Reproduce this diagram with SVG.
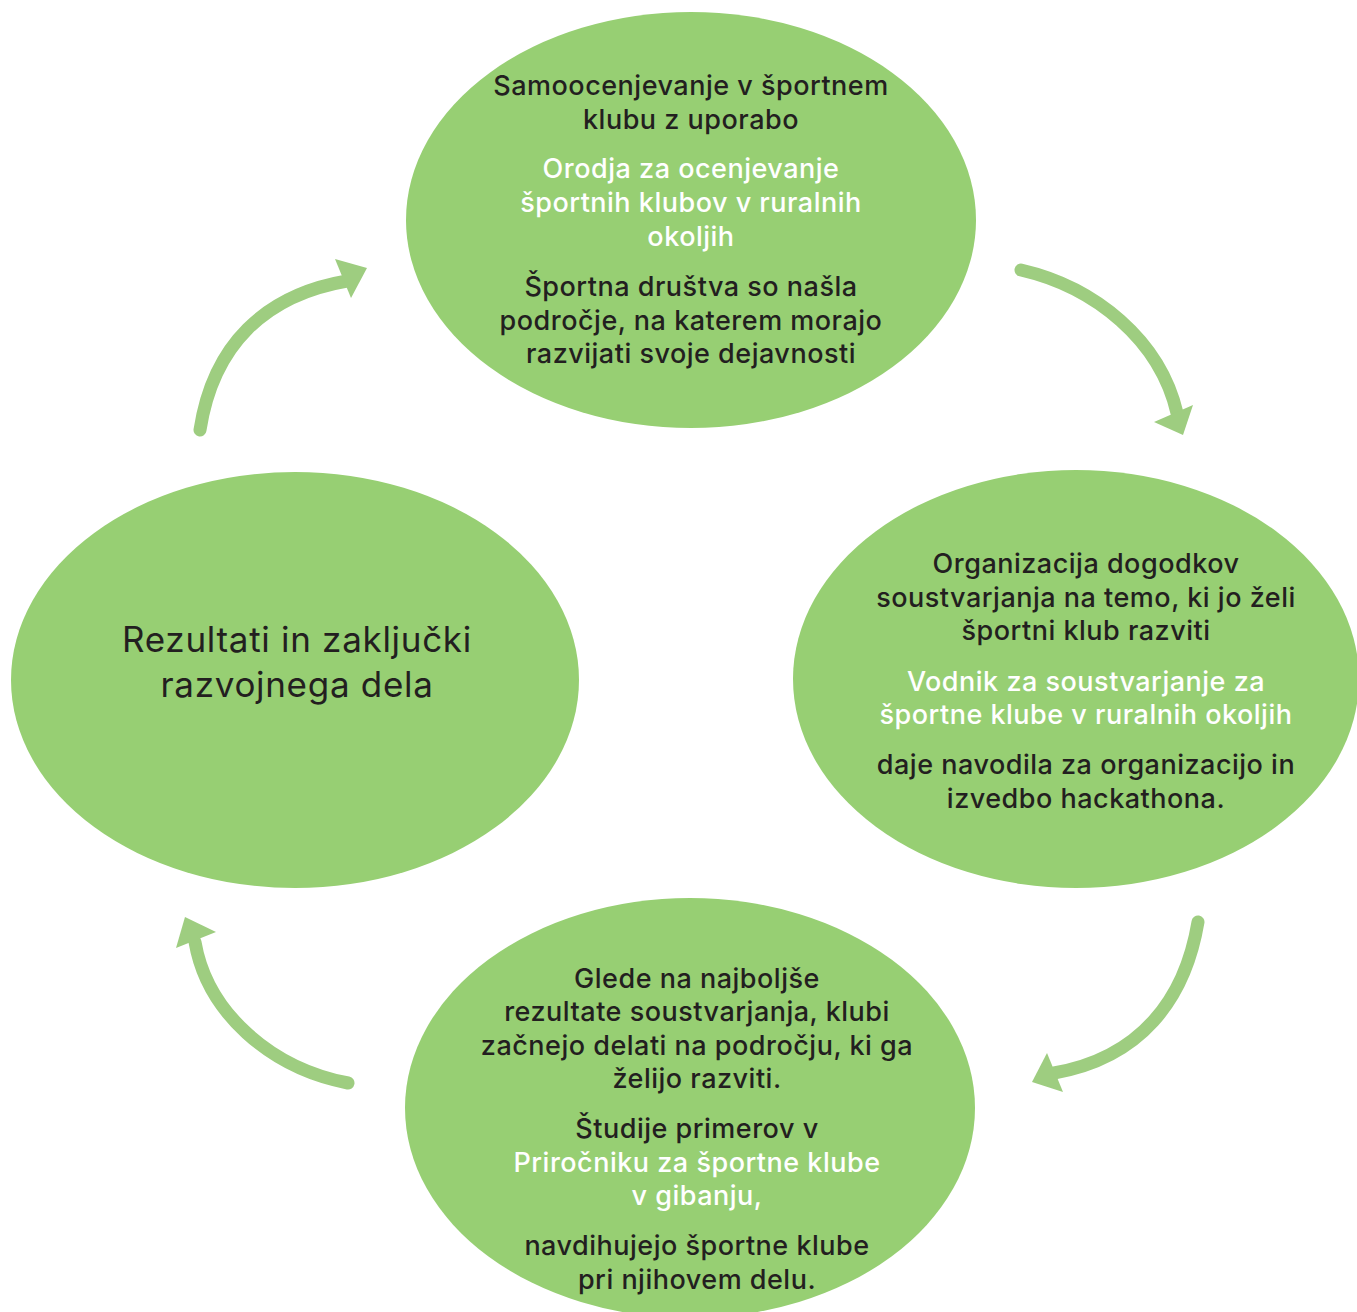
<svg xmlns="http://www.w3.org/2000/svg" width="1357" height="1312" viewBox="0 0 1357 1312">
  <style>
    .node { fill: #97cf73; }
    .t { font-family: Inter, "Noto Sans", "DejaVu Sans", sans-serif; font-size: 27px; font-weight: 500; letter-spacing: 0.5px; text-anchor: middle; fill: #231f20; }
    .w { fill: #ffffff; }
    .big { font-size: 35px; font-weight: 400; letter-spacing: 0.7px; }
    .link { fill: none; stroke: #9ecd80; stroke-width: 13; stroke-linecap: round; }
    .head { fill: #9ecd80; }
  </style>
  <rect width="1357" height="1312" fill="#ffffff"/>

  <!-- cycle connectors -->
  <g id="connectors">
    <path class="link" d="M200,430 C213,345 265,295 347,281"/>
    <polygon class="head" points="367,268 335,259 351,298"/>
    <path class="link" d="M1021,270 C1095,287 1160,340 1177,413"/>
    <polygon class="head" points="1183,435 1154,422 1193,405"/>
    <path class="link" d="M1198,922 C1185,1000 1140,1058 1054,1073"/>
    <polygon class="head" points="1032,1082 1047,1053 1063,1092"/>
    <path class="link" d="M348,1083 C270,1068 207,1012 195,942"/>
    <polygon class="head" points="185,917 176,948 216,932"/>
  </g>

  <g id="node-top">
    <ellipse class="node" cx="691" cy="220" rx="285" ry="208"/>
    <text class="t" x="691" y="95">Samoocenjevanje v športnem</text>
    <text class="t" x="691" y="129">klubu z uporabo</text>
    <text class="t w" x="691" y="178">Orodja za ocenjevanje</text>
    <text class="t w" x="691" y="212">športnih klubov v ruralnih</text>
    <text class="t w" x="691" y="246">okoljih</text>
    <text class="t" x="691" y="296">Športna društva so našla</text>
    <text class="t" x="691" y="330">področje, na katerem morajo</text>
    <text class="t" x="691" y="363">razvijati svoje dejavnosti</text>
  </g>

  <g id="node-right">
    <ellipse class="node" cx="1076" cy="679" rx="283" ry="209"/>
    <text class="t" x="1086" y="573">Organizacija dogodkov</text>
    <text class="t" x="1086" y="607">soustvarjanja na temo, ki jo želi</text>
    <text class="t" x="1086" y="640">športni klub razviti</text>
    <text class="t w" x="1086" y="691">Vodnik za soustvarjanje za</text>
    <text class="t w" x="1086" y="724">športne klube v ruralnih okoljih</text>
    <text class="t" x="1086" y="774">daje navodila za organizacijo in</text>
    <text class="t" x="1086" y="808">izvedbo hackathona.</text>
  </g>

  <g id="node-bottom">
    <ellipse class="node" cx="690" cy="1108" rx="285" ry="210"/>
    <text class="t" x="697" y="988">Glede na najboljše</text>
    <text class="t" x="697" y="1021">rezultate soustvarjanja, klubi</text>
    <text class="t" x="697" y="1055">začnejo delati na področju, ki ga</text>
    <text class="t" x="697" y="1088">želijo razviti.</text>
    <text class="t" x="697" y="1138">Študije primerov v</text>
    <text class="t w" x="697" y="1172">Priročniku za športne klube</text>
    <text class="t w" x="697" y="1205">v gibanju,</text>
    <text class="t" x="697" y="1255">navdihujejo športne klube</text>
    <text class="t" x="697" y="1289">pri njihovem delu.</text>
  </g>

  <g id="node-left">
    <ellipse class="node" cx="295" cy="680" rx="284" ry="208"/>
    <text class="t big" x="297" y="652">Rezultati in zaključki</text>
    <text class="t big" x="297" y="697">razvojnega dela</text>
  </g>
</svg>
